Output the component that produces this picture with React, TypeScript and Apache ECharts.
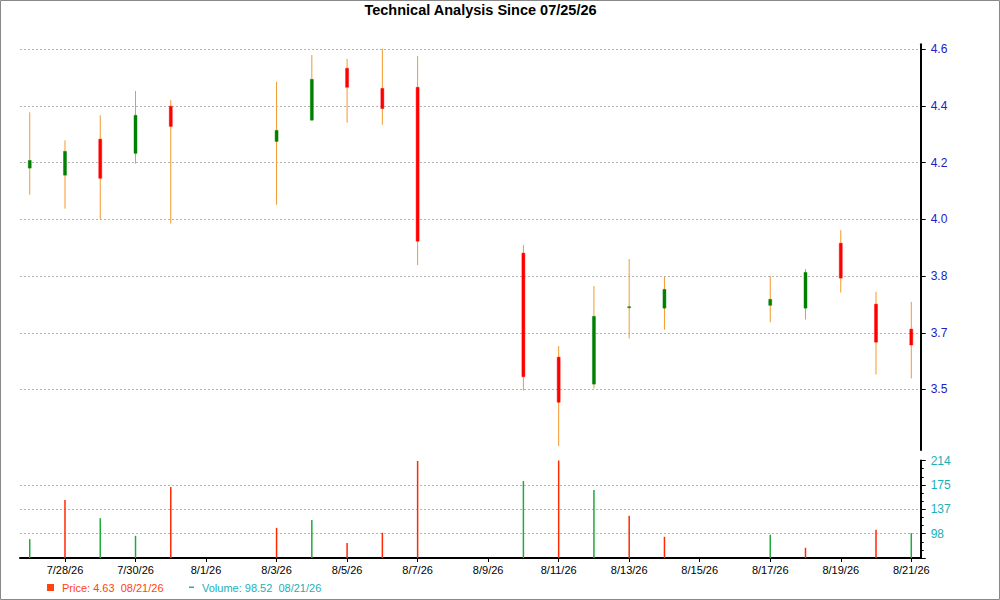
import { useEffect, useRef } from "react";
import * as echarts from "echarts";

// trading days shown on the chart (2026)
const days = ["7/27", "7/28", "7/29", "7/30", "7/31", "8/3", "8/4", "8/5", "8/6", "8/7", "8/10", "8/11", "8/12", "8/13", "8/14", "8/17", "8/18", "8/19", "8/20", "8/21"];
const opens = [4.181, 4.156, 4.283, 4.233, 4.399, 4.275, 4.35, 4.533, 4.462, 4.466, 3.881, 3.514, 3.419, 3.689, 3.687, 3.697, 3.687, 3.916, 3.701, 3.613];
const closes = [4.208, 4.24, 4.145, 4.367, 4.328, 4.314, 4.494, 4.466, 4.391, 3.923, 3.445, 3.355, 3.658, 3.692, 3.753, 3.718, 3.813, 3.793, 3.567, 3.557];
const lows = [4.087, 4.038, 4.0, 4.197, 3.985, 4.052, 4.349, 4.341, 4.334, 3.839, 3.396, 3.201, 3.404, 3.58, 3.611, 3.637, 3.647, 3.742, 3.453, 3.439];
const highs = [4.378, 4.279, 4.367, 4.453, 4.421, 4.485, 4.58, 4.566, 4.602, 4.576, 3.91, 3.553, 3.765, 3.86, 3.798, 3.8, 3.825, 3.962, 3.745, 3.709];
const volumes = [89, 151.4, 122.3, 94.2, 172, 106.9, 119.6, 82.7, 99, 213.2, 181.5, 214, 167.2, 126, 92.7, 95.8, 75.2, 58, 103.8, 98.52];
const volumeGreen = [true, false, true, true, false, false, true, false, false, false, true, false, true, false, false, true, false, false, false, true];

const priceTicks = [3.4, 3.6, 3.8, 4.0, 4.2, 4.4, 4.6];
const priceTickLabels = ["3.5", "3.7", "3.8", "4.0", "4.2", "4.4", "4.6"];
const xTickLabels = ["7/28/26", "7/30/26", "8/1/26", "8/3/26", "8/5/26", "8/7/26", "8/9/26", "8/11/26", "8/13/26", "8/15/26", "8/17/26", "8/19/26", "8/21/26"];

const legendPrice = "4.63";
const legendVolume = "98.52";
const legendDate = "08/21/26";

const dayNum = (md: string) => {
  const [m, d] = md.split("/").map(Number);
  return (Date.UTC(2026, m - 1, d) - Date.UTC(2026, 6, 26)) / 86400000;
};
const xTicks = xTickLabels.map((s) => dayNum(s.slice(0, s.lastIndexOf("/"))));

const FONT = '"Liberation Sans", Arial, sans-serif';
const RED = "#ff0000";
const GREEN = "#008000";
const WICK = "#f39a2b";
const GRID_LINE = { color: "#b4b4b4", type: [2, 2] as number[], width: 1 };

const X_MIN = 0.724;
const X_MAX = 26.267;
const VOL_MAX = 214;
const VOL_STEP = 38.75;

export default function App() {
  const ref = useRef<HTMLDivElement | null>(null);

  useEffect(() => {
    if (!ref.current) return;
    const chart = echarts.init(ref.current, undefined, { renderer: "svg" });

    const candles = days.map((d, i) => [dayNum(d), opens[i], closes[i], lows[i], highs[i]]);
    const vols = days.map((d, i) => ({
      value: [dayNum(d), volumes[i]],
      itemStyle: { color: volumeGreen[i] ? "#1faa3a" : "#ff2a00" },
    }));

    chart.setOption({
      animation: false,
      textStyle: { fontFamily: FONT },
      grid: [
        { left: 20, right: 79.3, top: 44.3, height: 405.7 },
        { left: 20, right: 79.3, top: 460.5, height: 97.5 },
      ],
      xAxis: [
        { gridIndex: 0, type: "value", min: X_MIN, max: X_MAX, show: false },
        {
          gridIndex: 1,
          type: "value",
          min: X_MIN,
          max: X_MAX,
          axisLine: { show: true, lineStyle: { color: "#000", width: 2 } },
          axisTick: { show: true, customValues: xTicks, length: 4, lineStyle: { color: "#000" } },
          axisLabel: {
            customValues: xTicks,
            color: "#000",
            fontSize: 11,
            fontFamily: FONT,
            margin: 6,
            formatter: (v: number) => xTickLabels[xTicks.findIndex((t) => Math.abs(t - v) < 1e-6)] ?? "",
          },
          splitLine: { show: false },
        },
      ],
      yAxis: [
        {
          gridIndex: 0,
          type: "value",
          position: "right",
          min: 3.1866,
          max: 4.6176,
          axisLine: { show: true, lineStyle: { color: "#000", width: 2 } },
          axisTick: { show: true, customValues: priceTicks, length: 5, lineStyle: { color: "#000" } },
          axisLabel: {
            customValues: priceTicks,
            color: "#2020c8",
            fontSize: 12,
            fontFamily: FONT,
            margin: 10,
            formatter: (v: number) => priceTickLabels[priceTicks.findIndex((t) => Math.abs(t - v) < 1e-6)] ?? "",
          },
          splitLine: { show: true, lineStyle: GRID_LINE },
        },
        {
          gridIndex: 1,
          type: "value",
          position: "right",
          min: VOL_MAX - 4 * VOL_STEP,
          max: VOL_MAX,
          interval: VOL_STEP,
          axisLine: { show: true, lineStyle: { color: "#000", width: 2 } },
          axisTick: { show: true, length: 5, lineStyle: { color: "#000" } },
          minorTick: { show: true, splitNumber: 3, length: 3, lineStyle: { color: "#000" } },
          axisLabel: {
            color: "#1ab0b8",
            fontSize: 12,
            fontFamily: FONT,
            margin: 10,
            showMinLabel: false,
            formatter: (v: number) => String(Math.round(v)),
          },
          splitLine: { show: true, showMinLine: false, showMaxLine: false, lineStyle: GRID_LINE },
        },
      ],
      series: [
        {
          type: "custom",
          xAxisIndex: 0,
          yAxisIndex: 0,
          data: candles,
          encode: { x: 0, y: [1, 2, 3, 4] },
          renderItem: (_params: any, api: any) => {
            const x = api.value(0);
            const o = api.value(1);
            const c = api.value(2);
            const pLow = api.coord([x, api.value(3)]);
            const pHigh = api.coord([x, api.value(4)]);
            const pO = api.coord([x, o]);
            const pC = api.coord([x, c]);
            const up = c >= o;
            const top = Math.min(pO[1], pC[1]);
            const h = Math.max(Math.abs(pO[1] - pC[1]), 1);
            return {
              type: "group",
              children: [
                {
                  type: "line",
                  shape: { x1: pLow[0], y1: pLow[1], x2: pHigh[0], y2: pHigh[1] },
                  style: { stroke: WICK, lineWidth: 1 },
                },
                {
                  type: "rect",
                  shape: { x: pO[0] - 1.5, y: top, width: 3, height: h },
                  style: {
                    fill: up ? GREEN : RED,
                    stroke: up ? "rgba(0,128,0,0.45)" : "rgba(255,0,0,0.45)",
                    lineWidth: 1,
                  },
                },
              ],
            };
          },
        },
        {
          type: "bar",
          xAxisIndex: 1,
          yAxisIndex: 1,
          data: vols,
          barWidth: 1.5,
        },
      ],
      graphic: [
        {
          type: "rect",
          silent: true,
          shape: { x: 0.5, y: 0.5, width: 999, height: 599 },
          style: { fill: "none", stroke: "#888", lineWidth: 1 },
        },
        {
          type: "text",
          x: 480.5,
          y: 10,
          style: {
            text: "Technical Analysis Since 07/25/26",
            fill: "#000",
            font: `bold 14.5px ${FONT}`,
            textAlign: "center",
            textVerticalAlign: "middle",
          },
        },
        {
          type: "rect",
          shape: { x: 47, y: 584, width: 7, height: 7 },
          style: { fill: "#ff4411" },
        },
        {
          type: "text",
          x: 62,
          y: 587.5,
          style: {
            text: `Price: ${legendPrice}  ${legendDate}`,
            fill: "#ff4411",
            font: `11px ${FONT}`,
            textVerticalAlign: "middle",
          },
        },
        {
          type: "rect",
          shape: { x: 189, y: 586.5, width: 5, height: 1.5 },
          style: { fill: "#1ab0b8" },
        },
        {
          type: "text",
          x: 202,
          y: 587.5,
          style: {
            text: `Volume: ${legendVolume}  ${legendDate}`,
            fill: "#1ab0b8",
            font: `11px ${FONT}`,
            textVerticalAlign: "middle",
          },
        },
      ],
    });

    return () => chart.dispose();
  }, []);

  return (
    <div
      ref={ref}
      style={{ position: "absolute", left: 0, top: 0, width: 1000, height: 600, background: "#fff" }}
    />
  );
}
